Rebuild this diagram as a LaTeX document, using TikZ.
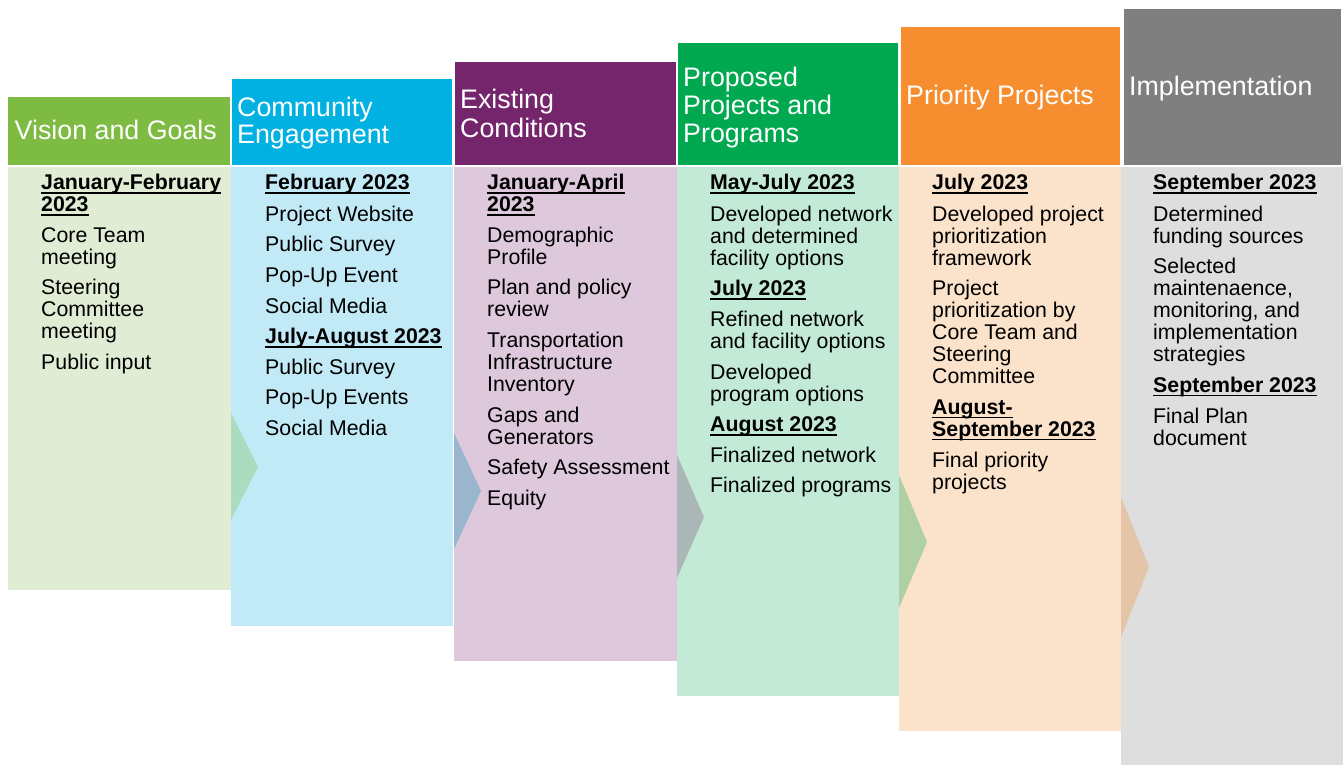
\documentclass[tikz,border=0pt]{standalone}
\usepackage{fontspec}
\setmainfont{Liberation Sans}
\definecolor{hdA}{HTML}{7DBB42}\definecolor{bdA}{HTML}{E0ECD3}
\definecolor{hdB}{HTML}{00B1E1}\definecolor{bdB}{HTML}{C2EAF6}
\definecolor{hdC}{HTML}{74256C}\definecolor{bdC}{HTML}{DDC8DC}
\definecolor{hdD}{HTML}{00A850}\definecolor{bdD}{HTML}{C2EAD6}
\definecolor{hdE}{HTML}{F68D2E}\definecolor{bdE}{HTML}{FBE2CA}
\definecolor{hdF}{HTML}{7F7F7F}\definecolor{bdF}{HTML}{DEDEDE}
% bold date heading with a fixed-depth underline
\newcommand\datehead[1]{{\bfseries\setbox0\hbox{#1}\rlap{\rule[-3.9pt]{\wd0}{1.8pt}}\box0}}
\begin{document}
\begin{tikzpicture}[x=1pt,y=-1pt,
  hdrtext/.style={anchor=north west, inner sep=0pt, align=left, text=white,
    font=\fontsize{26.8}{27.5}\selectfont},
  bodytext/.style={anchor=north west, inner sep=0pt, align=left, text=black,
    font=\fontsize{21.3}{22}\selectfont},
  chevron/.style={fill opacity=0.3}]
\useasboundingbox (0,0) rectangle (1343,765);

% column bodies
\fill[bdA] (8,167) rectangle (231,590);
\fill[bdB] (231,167) rectangle (453,626);
\fill[bdC] (454,167) rectangle (677,661);
\fill[bdD] (677,167) rectangle (899,696);
\fill[bdE] (899,167) rectangle (1121,731);
\fill[bdF] (1121,167) rectangle (1343,765);

% column headers
\fill[hdA] (8,97) rectangle (229.5,165);
\fill[hdB] (232,79) rectangle (452,165);
\fill[hdC] (454.5,62) rectangle (675.5,165);
\fill[hdD] (678,43.5) rectangle (898,165);
\fill[hdE] (901,27) rectangle (1120,165);
\fill[hdF] (1123.5,9) rectangle (1341,165);

% chevrons between columns
\fill[hdA,chevron] (231,413) -- (258,467) -- (231,520) -- cycle;
\fill[hdB!80!black,chevron] (454,433) -- (481,491) -- (454,549) -- cycle;
\fill[hdC!70!gray,chevron] (677,455) -- (704,517) -- (677,578) -- cycle;
\fill[hdD,chevron] (899,475) -- (927,542) -- (899,608) -- cycle;
\fill[hdE,chevron] (1121,497) -- (1149,567) -- (1121,637) -- cycle;

% header titles
\node[hdrtext] (tA) at (14.5,119.75) {\strut Vision and Goals};
\node[hdrtext] (tB) at (237,96.75) {\strut Community\\Engagement};
\node[hdrtext] (tC) at (460,89.05) {\strut Existing\\Conditions};
\node[hdrtext] (tD) at (683,66.45) {\strut Proposed\\Projects and\\Programs};
\node[hdrtext] (tE) at (906,85.05) {\strut Priority Projects};
\node[hdrtext] (tF) at (1129,75.75) {\strut Implementation};

% column contents
\node[bodytext] (cA) at (41,174.1) {\strut\datehead{January-February}\\\datehead{2023}\\[8.6pt]
  Core Team\\meeting\\[8.6pt]
  Steering\\Committee\\meeting\\[8.6pt]
  Public input};
\node[bodytext] (cB) at (265,174.1) {\strut\datehead{February 2023}\\[8.6pt]
  Project Website\\[8.6pt]
  Public Survey\\[8.6pt]
  Pop-Up Event\\[8.6pt]
  Social Media\\[8.6pt]
  \datehead{July-August 2023}\\[8.6pt]
  Public Survey\\[8.6pt]
  Pop-Up Events\\[8.6pt]
  Social Media};
\node[bodytext] (cC) at (487,174.1) {\strut\datehead{January-April}\\\datehead{2023}\\[8.6pt]
  Demographic\\Profile\\[8.6pt]
  Plan and policy\\review\\[8.6pt]
  Transportation\\Infrastructure\\Inventory\\[8.6pt]
  Gaps and\\Generators\\[8.6pt]
  Safety Assessment\\[8.6pt]
  Equity};
\node[bodytext] (cD) at (710,174.1) {\strut\datehead{May-July 2023}\\[8.6pt]
  Developed network\\and determined\\facility options\\[8.6pt]
  \datehead{July 2023}\\[8.6pt]
  Refined network\\and facility options\\[8.6pt]
  Developed\\program options\\[8.6pt]
  \datehead{August 2023}\\[8.6pt]
  Finalized network\\[8.6pt]
  Finalized programs};
\node[bodytext] (cE) at (932,174.1) {\strut\datehead{July 2023}\\[8.6pt]
  Developed project\\prioritization\\framework\\[8.6pt]
  Project\\prioritization by\\Core Team and\\Steering\\Committee\\[8.6pt]
  \datehead{August-}\\\datehead{September 2023}\\[8.6pt]
  Final priority\\projects};
\node[bodytext] (cF) at (1153,174.1) {\strut\datehead{September 2023}\\[8.6pt]
  Determined\\funding sources\\[8.6pt]
  Selected\\maintenaence,\\monitoring, and\\implementation\\strategies\\[8.6pt]
  \datehead{September 2023}\\[8.6pt]
  Final Plan\\document};
\end{tikzpicture}
\end{document}
